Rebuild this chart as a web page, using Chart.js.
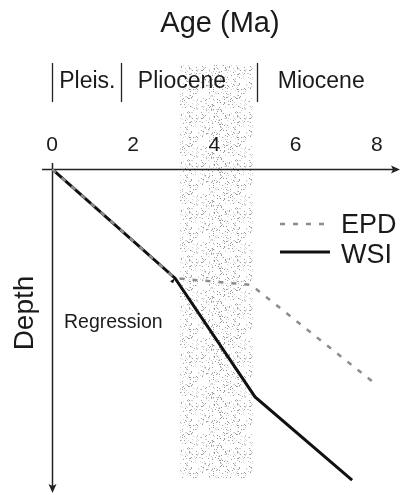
<!DOCTYPE html>
<html>
<head>
<meta charset="utf-8">
<script src="https://cdn.jsdelivr.net/npm/chart.js@4/dist/chart.umd.min.js"></script>
<style>
  html, body { margin: 0; padding: 0; background: #fff; }
  #wrap { width: 401px; height: 495px; }
</style>
</head>
<body>
<div id="wrap"><canvas id="burialChart" width="401" height="495"></canvas></div>
<script>
// Age axis (Ma) and depth (arbitrary units, increasing downward)
const xTicks = [0, 2, 4, 6, 8];
const seriesNames = ['EPD', 'WSI'];

const wsiAge = [0, 3.03, 5.0, 7.39];
const wsiDepth = [0, 3.40, 7.10, 9.69];

const epdAge = [0, 3.03, 4.9, 8.0];
const epdDepth = [0, 3.40, 3.61, 6.73];

// Epoch boundaries and names
const epochBounds = [0, 1.7, 5.05];
const epochNames = ['Pleis.', 'Pliocene', 'Miocene'];
const epochLabelAge = [0.87, 3.2, 6.63];

// Shaded interval (Ma)
const shadeFrom = 3.15;
const shadeTo = 4.95;

const FONT = '"Liberation Sans", Arial, sans-serif';

function toPoints(xs, ys) {
    return xs.map((x, i) => ({ x: x, y: ys[i] }));
}

// irregular stipple tile for the shaded band (integer hash, same every run)
function makeStipple(ctx) {
    const n = 48;
    const c = document.createElement('canvas');
    c.width = n; c.height = n;
    const g = c.getContext('2d');
    for (let i = 0; i < n; i++) {
        for (let j = 0; j < n; j++) {
            let h = (i * 374761393 + j * 668265263) | 0;
            h = Math.imul(h ^ (h >>> 13), 1274126177);
            h = (h ^ (h >>> 16)) >>> 0;
            const r = h % 100;
            if (r < 6) {
                g.fillStyle = '#9c9c9c';
                g.fillRect(i, j, 1, 1);
            } else if (r < 13) {
                g.fillStyle = '#d0d0d0';
                g.fillRect(i, j, 1, 1);
            }
        }
    }
    return ctx.createPattern(c, 'repeat');
}

const decorPlugin = {
    id: 'decor',
    beforeDatasetsDraw(chart) {
        const ctx = chart.ctx;
        const xs = chart.scales.x;
        const area = chart.chartArea;
        ctx.save();
        // shaded band
        const x0 = xs.getPixelForValue(shadeFrom);
        const x1 = xs.getPixelForValue(shadeTo);
        ctx.fillStyle = makeStipple(ctx);
        ctx.fillRect(x0, 65, x1 - x0, 478 - 65);

        // title
        ctx.fillStyle = '#1a1a1a';
        ctx.font = '29px ' + FONT;
        ctx.textAlign = 'center';
        ctx.textBaseline = 'alphabetic';
        ctx.fillText('Age (Ma)', 220, 32);

        // epoch boundaries + names
        ctx.strokeStyle = '#222';
        ctx.lineWidth = 1.3;
        epochBounds.forEach(a => {
            const px = Math.round(xs.getPixelForValue(a)) + 0.5;
            ctx.beginPath();
            ctx.moveTo(px, 63);
            ctx.lineTo(px, 102);
            ctx.stroke();
        });
        ctx.font = '23px ' + FONT;
        epochNames.forEach((n, i) => {
            ctx.fillText(n, xs.getPixelForValue(epochLabelAge[i]), 88);
        });

        // tick labels
        ctx.font = '21px ' + FONT;
        xTicks.forEach(v => {
            ctx.fillText(String(v), xs.getPixelForValue(v), 151);
        });

        // axes with arrows
        const ox = Math.round(xs.getPixelForValue(0)) + 0.5;
        const oy = Math.round(area.top) + 0.5;
        ctx.strokeStyle = '#222';
        ctx.fillStyle = '#222';
        ctx.lineWidth = 1.5;
        ctx.beginPath();
        ctx.moveTo(42, oy);
        ctx.lineTo(397, oy);
        ctx.moveTo(ox, 163);
        ctx.lineTo(ox, 489);
        ctx.stroke();
        ctx.beginPath();
        ctx.moveTo(400, oy);
        ctx.lineTo(391, oy - 4);
        ctx.lineTo(393, oy);
        ctx.lineTo(391, oy + 4);
        ctx.closePath();
        ctx.fill();
        ctx.beginPath();
        ctx.moveTo(ox, 493);
        ctx.lineTo(ox - 4, 484);
        ctx.lineTo(ox, 486);
        ctx.lineTo(ox + 4, 484);
        ctx.closePath();
        ctx.fill();

        // axis title
        ctx.save();
        ctx.fillStyle = '#1a1a1a';
        ctx.translate(33, 313);
        ctx.rotate(-Math.PI / 2);
        ctx.font = '28px ' + FONT;
        ctx.textAlign = 'center';
        ctx.fillText('Depth', 0, 0);
        ctx.restore();

        // regression note
        ctx.fillStyle = '#1a1a1a';
        ctx.font = '19.5px ' + FONT;
        ctx.textAlign = 'left';
        ctx.fillText('Regression', 64, 328);
        ctx.restore();
    },
    afterDatasetsDraw(chart) {
        const ctx = chart.ctx;
        const xs = chart.scales.x;
        const ys = chart.scales.y;
        ctx.save();
        // small pointer at the break
        const bx = xs.getPixelForValue(wsiAge[1]);
        const by = ys.getPixelForValue(wsiDepth[1]);
        ctx.fillStyle = '#111';
        ctx.beginPath();
        ctx.moveTo(bx, by);
        ctx.lineTo(bx - 5, by + 3);
        ctx.lineTo(bx - 2, by + 5);
        ctx.closePath();
        ctx.fill();

        // legend
        const lx0 = 280, lx1 = 330;
        ctx.lineCap = 'butt';
        ctx.strokeStyle = '#8c8c8c';
        ctx.lineWidth = 2.5;
        ctx.setLineDash([5, 8]);
        ctx.beginPath();
        ctx.moveTo(lx0, 224);
        ctx.lineTo(lx1, 224);
        ctx.stroke();
        ctx.setLineDash([]);
        ctx.strokeStyle = '#111';
        ctx.lineWidth = 3;
        ctx.beginPath();
        ctx.moveTo(lx0, 252);
        ctx.lineTo(lx1, 252);
        ctx.stroke();
        ctx.fillStyle = '#1a1a1a';
        ctx.font = '27px ' + FONT;
        ctx.textAlign = 'left';
        ctx.textBaseline = 'alphabetic';
        ctx.fillText(seriesNames[0], 341, 233);
        ctx.fillText(seriesNames[1], 341, 263);
        ctx.restore();
    }
};

new Chart(document.getElementById('burialChart'), {
    type: 'scatter',
    data: {
        datasets: [
            {
                label: seriesNames[1],
                data: toPoints(wsiAge, wsiDepth),
                showLine: true,
                borderColor: '#111',
                borderWidth: 3,
                pointRadius: 0,
                order: 2
            },
            {
                label: seriesNames[0],
                data: toPoints(epdAge, epdDepth),
                showLine: true,
                borderColor: '#8c8c8c',
                borderWidth: 2.5,
                borderDash: [5, 8],
                pointRadius: 0,
                order: 1
            }
        ]
    },
    options: {
        responsive: false,
        animation: false,
        layout: { padding: { left: 52, top: 169, right: 1, bottom: 5 } },
        scales: {
            x: { type: 'linear', min: 0, max: 8.57, display: false },
            y: { type: 'linear', min: 0, max: 10, reverse: true, display: false }
        },
        plugins: {
            legend: { display: false },
            tooltip: { enabled: false }
        }
    },
    plugins: [decorPlugin]
});
</script>
</body>
</html>
